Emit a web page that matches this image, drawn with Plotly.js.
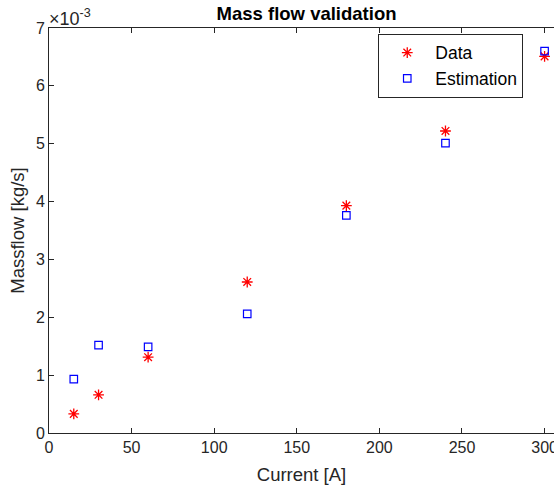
<!DOCTYPE html>
<html>
<head>
<meta charset="utf-8">
<script src="https://cdn.plot.ly/plotly-3.0.1.min.js"></script>
<style>html,body{margin:0;padding:0;background:#fff;}#plot{width:554px;height:489px;}</style>
</head>
<body>
<div id="plot"></div>
<script>
const current = [15, 30, 60, 120, 180, 240, 300];
const dataMassflow = [0.00033, 0.00066, 0.00131, 0.00261, 0.00393, 0.00522, 0.00651];
const estMassflow = [0.00093, 0.00152, 0.00149, 0.00206, 0.00376, 0.00501, 0.00660];
const yTickVals = [0, 0.001, 0.002, 0.003, 0.004, 0.005, 0.006, 0.007];
const yTickText = ['0', '1', '2', '3', '4', '5', '6', '7'];
const xTickVals = [0, 50, 100, 150, 200, 250, 300];

const axisColor = '#262626';
const fam = 'Liberation Sans, Arial, sans-serif';

const traces = [
  {x: current, y: dataMassflow, name: 'Data', type: 'scatter', mode: 'markers',
   marker: {symbol: 'asterisk-open', size: 9, color: '#ff0000', line: {color: '#ff0000', width: 1.3}}},
  {x: current, y: estMassflow, name: 'Estimation', type: 'scatter', mode: 'markers',
   marker: {symbol: 'square-open', size: 7.5, color: '#0000ff', line: {color: '#0000ff', width: 1.2}}}
];

const layout = {
  width: 554, height: 489,
  margin: {l: 48.5, r: 0, t: 28, b: 56, pad: 0},
  paper_bgcolor: '#fff', plot_bgcolor: '#fff',
  font: {family: fam, size: 16, color: axisColor},
  showlegend: true,
  title: {text: '<b>Mass flow validation</b>', x: 0.51, xref: 'paper', xanchor: 'center', y: 0.972, yanchor: 'middle', font: {family: fam, size: 18.5, color: '#000'}},
  xaxis: {
    range: [0, 305.7], tickvals: xTickVals, ticks: 'inside', ticklen: 5, tickcolor: axisColor,
    showline: true, linecolor: axisColor, linewidth: 1, mirror: 'ticks', showgrid: false, zeroline: false,
    ticklabeloverflow: 'allow',
    tickfont: {family: fam, size: 16, color: axisColor},
    title: {text: 'Current [A]', font: {family: fam, size: 18.5, color: axisColor}, standoff: 12}
  },
  yaxis: {
    range: [0, 0.007], tickvals: yTickVals, ticktext: yTickText, ticks: 'inside', ticklen: 5, tickcolor: axisColor,
    showline: true, linecolor: axisColor, linewidth: 1, mirror: false, showgrid: false, zeroline: false,
    tickfont: {family: fam, size: 16, color: axisColor},
    title: {text: 'Massflow [kg/s]', font: {family: fam, size: 18.5, color: axisColor}, standoff: 6}
  },
  legend: {
    x: 0.652, y: 0.986, xanchor: 'left', yanchor: 'top',
    bgcolor: '#fff', bordercolor: axisColor, borderwidth: 1,
    font: {family: fam, size: 17.5, color: '#000'}, itemwidth: 46, tracegroupgap: 0
  },
  annotations: [{
    text: '×10<sup>-3</sup>', xref: 'paper', yref: 'paper', x: 0, y: 1, xanchor: 'left', yanchor: 'bottom',
    xshift: -2, yshift: -3, showarrow: false, font: {family: fam, size: 18, color: axisColor}
  }]
};

Plotly.newPlot('plot', traces, layout, {displayModeBar: false, staticPlot: true});
</script>
</body>
</html>
